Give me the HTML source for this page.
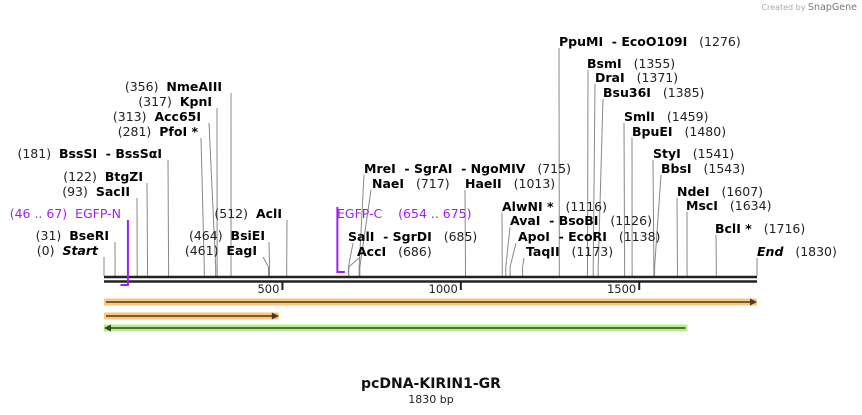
<!DOCTYPE html>
<html><head><meta charset="utf-8">
<style>
html,body{margin:0;padding:0;background:#fff;}
svg{display:block;font-family:"DejaVu Sans","Liberation Sans",sans-serif;}
text{white-space:pre;}
.n{font-size:12.5px;fill:#222;}
.b{font-weight:bold;fill:#000;}
.p{fill:#a020f0;font-size:12.5px;}
</style></head>
<body>
<svg id="map" width="862" height="415" viewBox="0 0 862 415">
<text x="857" y="10" text-anchor="end" font-size="8" fill="#aaa">Created by <tspan fill="#777" font-size="9.5">SnapGene</tspan></text>
<g id="lines"></g>
<g id="labels"></g>
<line x1="104" y1="277" x2="757" y2="277" stroke="#222" stroke-width="2.5"/>
<line x1="104" y1="281.5" x2="757" y2="281.5" stroke="#222" stroke-width="2.5"/>
<g id="ticks"></g>
<g id="features"></g>
<text x="431" y="388" text-anchor="middle" font-size="14" font-weight="bold" fill="#111">pcDNA-KIRIN1-GR</text>
<text x="431" y="403" text-anchor="middle" font-size="11" fill="#222">1830 bp</text>
</svg>
<script>
const seqLength = 1830;
const tickValues = [500, 1000, 1500];
const enzymeNames = ["Start","BseRI","SacII","BtgZI","BssSI  - BssSαI","PfoI *","Acc65I","KpnI","NmeAIII","EagI","BsiEI","AclI",
 "SalI  - SgrDI","AccI","MreI  - SgrAI  - NgoMIV","NaeI","HaeII","AlwNI *","AvaI  - BsoBI","ApoI  - EcoRI","TaqII",
 "PpuMI  - EcoO109I","BsmI","DraI","Bsu36I","SmlI","BpuEI","StyI","BbsI","NdeI","MscI","BclI *","End"];
const enzymeSites = [0,31,93,122,181,281,313,317,356,461,464,512,685,686,715,717,1013,1116,1126,1138,1173,1276,1355,1371,1385,1459,1480,1541,1543,1607,1634,1716,1830];
// layout: [side(L/R), textAnchorX, labelCenterY, lineTopX]
const labelLayout = [["L",98,251,104],["L",109,236,115],["L",130,192,137],["L",143,177,147],["L",162,154,168],["L",198,132,201],["L",201,117,209],["L",212,102,217],["L",222,87,231],["L",257,251,263],["L",265,236,269],["L",282,214,287],
 ["R",348,237,353],["R",357,252,359],["R",364,169,364],["R",372,184,371],["R",465,184,465],["R",502,207,502],["R",510,221,510],["R",518,237,516],["R",526,252,524],
 ["R",559,42,559],["R",587,64,588],["R",595,78,595],["R",603,93,603],["R",624,117,624],["R",632,132,632],["R",653,154,653],["R",661,169,661],["R",677,192,677],["R",686,206,687],["R",715,229,716],["R",757,252,757]];
const featNames = ["EGFP-N","EGFP-C"];
const featStart = [46,654];
const featEnd = [67,675];
const arrowStart = [1,1,1];
const arrowEnd = [1830,490,1635];

const NS="http://www.w3.org/2000/svg";
const X0=104,X1=757;
function sx(p){return X0+p*(X1-X0)/seqLength;}
function mk(t,a,parent){const e=document.createElementNS(NS,t);for(const k in a)e.setAttribute(k,a[k]);parent.appendChild(e);return e;}
const gL=document.getElementById('lines'),gT=document.getElementById('labels'),gK=document.getElementById('ticks'),gF=document.getElementById('features');

enzymeNames.forEach((nm,i)=>{
  const [side,ax,cy,lx]=labelLayout[i];
  const x=sx(enzymeSites[i]);
  const pl=mk('polyline',{points:`${lx},${cy+6} ${x},267 ${x},276`,fill:'none',stroke:'#888','stroke-width':1},gL);
  
  
  const t=mk('text',{x:ax,y:cy+4,'text-anchor':side==='L'?'end':'start',class:'n'},gT);
  
  
  const num='('+enzymeSites[i]+')';
  const it=(nm==='Start'||nm==='End')?' font-style="italic"':'';
  if(side==='L') t.innerHTML=`<tspan>${num}</tspan>  <tspan class="b"${it}>${nm}</tspan>`;
  else t.innerHTML=`<tspan class="b"${it}>${nm}</tspan>   <tspan>${num}</tspan>`;
});

tickValues.forEach(v=>{
  const x=sx(v);
  const l=mk('line',{x1:x,y1:282,x2:x,y2:290,stroke:'#222','stroke-width':2},gK);
  
  
  const t=mk('text',{x:x-3,y:293,'text-anchor':'end','font-size':11.5,fill:'#222'},gK);
  t.textContent=v;
  
  
});

const pLay=[["L",121,214],["R",337,214]];
featNames.forEach((nm,i)=>{
  const a=sx(featStart[i]),b=sx(featEnd[i]);
  const t=mk('text',{x:pLay[i][1],y:pLay[i][2]+4,'text-anchor':pLay[i][0]==='L'?'end':'start',class:'p'},gT);
  
  
  t.textContent=i===0?`(${featStart[i]} .. ${featEnd[i]})  ${nm}`:`${nm}    (${featStart[i]} .. ${featEnd[i]})`;
  const p=i===0?`${b},220 ${b},285 ${a},285`:`${a},207 ${a},272 ${b},272`;
  const pl=mk('polyline',{points:p,fill:'none',stroke:'#a020f0','stroke-width':2},gF);
  
  
});

const arrY=[302,316,328],arrCol=['#f9c67a','#f9c67a','#b8ec8c'],arrDir=[1,1,-1];
arrowEnd.forEach((e,i)=>{
  const a=sx(arrowStart[i]-1),b=sx(e),y=arrY[i];
  const g=mk('g',{},gF);
  
  
  mk('rect',{x:a,y:y-3.5,width:b-a,height:7,fill:arrCol[i],rx:1},g);
  if(arrDir[i]>0){
    mk('line',{x1:a+2,y1:y,x2:b-5,y2:y,stroke:'#4a3a20','stroke-width':1.6},g);
    mk('polygon',{points:`${b-7},${y-3.5} ${b},${y} ${b-7},${y+3.5}`,fill:'#4a3a20'},g);
  } else {
    mk('line',{x1:a+5,y1:y,x2:b-2,y2:y,stroke:'#2f4a20','stroke-width':1.6},g);
    mk('polygon',{points:`${a+7},${y-3.5} ${a},${y} ${a+7},${y+3.5}`,fill:'#2f4a20'},g);
  }
});
</script>
</body></html>
